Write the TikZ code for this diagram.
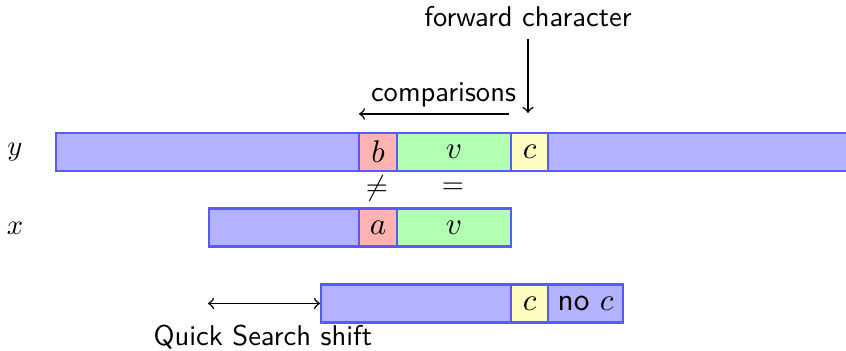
\documentclass[tikz,border=0pt]{standalone}
\usepackage{amssymb}
\begin{document}
\begin{tikzpicture}[x=0.35pt,y=-0.35pt,
  cell/.style={draw=blue!65,line width=0.75pt,inner sep=0pt,minimum height=13.3pt,anchor=west,font=\sffamily\fontsize{10.95}{13}\selectfont},
  bl/.style={cell,fill=blue!30},
  rd/.style={cell,fill=red!30},
  gr/.style={cell,fill=green!30},
  yl/.style={cell,fill=yellow!25},
  lab/.style={font=\sffamily,inner sep=0pt},
  arr/.style={->,line width=0.55pt}]
\useasboundingbox (0,0) rectangle (846,351);
% text y
\node[bl,minimum width=106.05pt] (yleft) at (55,152) {};
\node[rd,minimum width=13.3pt] (yb) at (358,152) {$b$};
\node[gr,minimum width=39.9pt] (yv) at (396,152) {$v$};
\node[yl,minimum width=12.95pt] (yc) at (510,152) {$c$};
\node[bl,minimum width=107pt] (yright) at (547,152) {};
% pattern x
\node[bl,minimum width=52.5pt] (xleft) at (208,227.5) {};
\node[rd,minimum width=13.3pt] (xa) at (358,227.5) {$a$};
\node[gr,minimum width=39.9pt] (xv) at (396,227.5) {$v$};
% shifted pattern
\node[bl,minimum width=66.5pt] (sleft) at (320,303.5) {};
\node[yl,minimum width=12.95pt] (sc) at (510,303.5) {$c$};
\node[bl,minimum width=26.25pt] (snoc) at (547,303.5) {no $c$};
% labels
\node[inner sep=0pt] (ly) at (15,152) {$y$};
\node[inner sep=0pt] (lx) at (15,228) {$x$};
\node[inner sep=0pt] (neq) at (377,188) {$\neq$};
\node[inner sep=0pt] (eq) at (453,188) {$=$};
\node[lab,anchor=base] (fc) at (528,27) {forward character};
\node[lab,anchor=base] (cmp) at (443.5,102) {comparisons};
\node[lab,anchor=base west] (qs) at (153,346) {Quick Search shift};
% arrows
\coordinate (fcs) at (528,39);
\coordinate (fce) at (528,113);
\draw[arr] (fcs) -- (fce);
\coordinate (cmps) at (509,114);
\coordinate (cmpe) at (359,114);
\draw[arr] (cmps) -- (cmpe);
\coordinate (shs) at (208,303.5);
\draw[<->,line width=0.55pt] (shs) -- (sleft.west);
\end{tikzpicture}
\end{document}
